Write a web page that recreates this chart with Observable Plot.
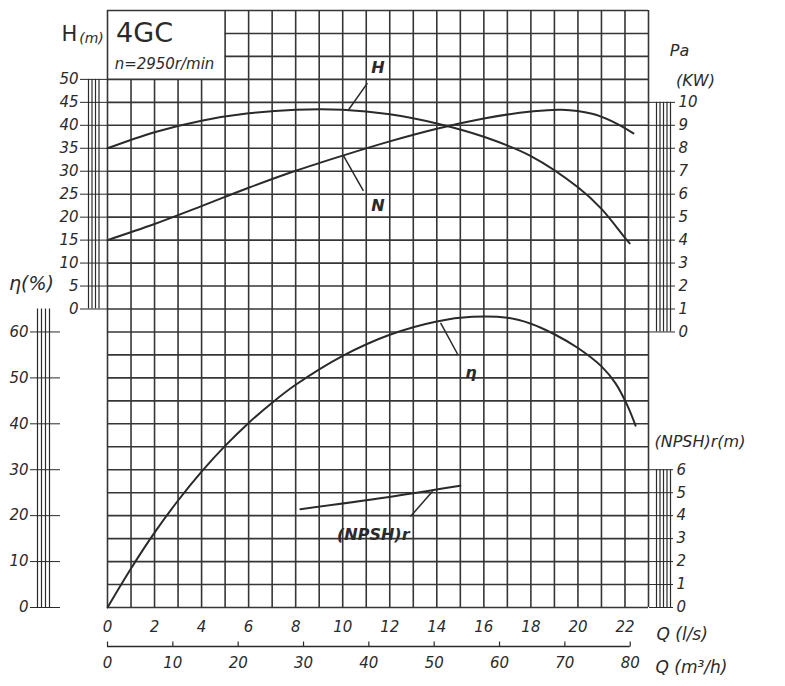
<!DOCTYPE html>
<html><head><meta charset="utf-8">
<script src="https://cdn.jsdelivr.net/npm/d3@7"></script>
<script src="https://cdn.jsdelivr.net/npm/@observablehq/plot@0.6"></script>
<style>body{margin:0;background:#fff}svg{display:block}</style>
</head><body><div id="chart"></div>
<script>
// ---- data ----
// Head H (m) vs Q (L/s)
const qHead = [0, 2, 4, 6, 8, 10, 12, 14, 16, 18, 20, 21, 22, 22.2];
const headM = [35, 38.5, 41.0, 42.6, 43.4, 43.4, 42.4, 40.4, 37.5, 33.3, 26.5, 21.8, 15.5, 14.3];
// Shaft power N (kW)
const qPower = [0, 2, 4, 6, 8, 10, 12, 14, 16, 18, 19.3, 20.6, 21.5, 22.36];
const powerKW = [4.0, 4.7, 5.48, 6.28, 7.02, 7.68, 8.3, 8.85, 9.3, 9.6, 9.68, 9.5, 9.15, 8.65];
// Efficiency (%)
const qEff = [0, 1, 2, 3, 4, 5, 6, 7, 8, 10, 12, 14, 15.5, 17, 18, 19, 20, 21, 21.6, 22.1, 22.45];
const effPct = [0, 8.5, 16.3, 23.3, 29.6, 35.2, 40.2, 44.6, 48.5, 54.8, 59.4, 62.3, 63.3, 63.1, 61.8, 59.5, 56.5, 52.5, 48.8, 44.0, 39.6];
// (NPSH)r (m)
const qNpsh = [8.2, 11.9, 15.0];
const npshM = [4.28, 4.8, 5.3];

// tick labels
const qLsTicks = [0, 2, 4, 6, 8, 10, 12, 14, 16, 18, 20, 22];
const qM3hTicks = [0, 10, 20, 30, 40, 50, 60, 70, 80];
const headTicks = [0, 5, 10, 15, 20, 25, 30, 35, 40, 45, 50];
const effTicks = [0, 10, 20, 30, 40, 50, 60];
const powerTicks = [0, 1, 2, 3, 4, 5, 6, 7, 8, 9, 10];
const npshTicks = [0, 1, 2, 3, 4, 5, 6];

// ---- mapping of the four vertical scales onto one grid (grid row = 5 m of head) ----
const Y_MIN = -65, Y_MAX = 65, Q_MAX = 23;
const fromHead = h => h;
const fromEff = e => e - 65;
const fromPower = p => 5 * p - 5;
const fromNpsh = n => 5 * n - 65;

const headData = qHead.map((q, i) => ({q, v: fromHead(headM[i])}));
const powerData = qPower.map((q, i) => ({q, v: fromPower(powerKW[i])}));
const effData = qEff.map((q, i) => ({q, v: fromEff(effPct[i])}));
const npshData = qNpsh.map((q, i) => ({q, v: fromNpsh(npshM[i])}));

// grid (title box at the top-left left blank)
const vLines = d3.range(0, Q_MAX + 1).map(q => ({q, y1: Y_MIN, y2: (q >= 1 && q <= 4) ? 50 : Y_MAX}));
const hLines = d3.range(Y_MIN, Y_MAX + 1, 5).map(v => ({v, x1: (v === 55 || v === 60) ? 5 : 0, x2: Q_MAX}));

// curve labels and leaders (annotation positions in grid units)
const curveLabels = [
  {q: 11.5, v: 52.5, t: "H"},
  {q: 11.5, v: 22.5, t: "N"},
  {q: 15.45, v: -13.9, t: "η"},
  {q: 11.3, v: -49.2, t: "(NPSH)r"}
];
const leaders = [
  {q1: 10.25, v1: 43.4, q2: 11.05, v2: 49.2},
  {q1: 10.03, v1: 33.4, q2: 10.88, v2: 25.7},
  {q1: 14.16, v1: -3.0, q2: 14.88, v2: -9.8},
  {q1: 12.88, v1: -45.2, q2: 13.82, v2: -39.7}
];

const ink = "#2a2a2a";
const gridInk = "#363636";
const hand = "'DejaVu Sans', sans-serif";

// measuring-bar helpers (hatched vertical bars beside each scale)
function bar(xAnchor, y1, y2, offsets) {
  return offsets.map(o => Plot.ruleX([xAnchor], {x: d => d, y1: () => y1, y2: () => y2, dx: o, stroke: ink, strokeWidth: 1.2}));
}
const tickUp = {draw(ctx) { ctx.moveTo(0, 0); ctx.lineTo(0, -5); }};
// centred free text relative to a frame corner
const note = (t, anchor, dx, dy, size, extra = {}) =>
  Plot.text([t], {frameAnchor: anchor, textAnchor: "middle", lineAnchor: "middle", dx, dy, fontSize: size, fill: ink, ...extra});

const chart = Plot.plot({
  width: 785, height: 686,
  marginLeft: 107, marginRight: 137, marginTop: 10, marginBottom: 79,
  x: {domain: [0, Q_MAX]},
  y: {domain: [Y_MIN, Y_MAX]},
  style: {fontFamily: hand, fontStyle: "italic", color: ink, background: "#fff"},
  marks: [
    // grid
    Plot.ruleX(vLines, {x: "q", y1: "y1", y2: "y2", stroke: gridInk, strokeWidth: 1.6}),
    Plot.ruleY(hLines, {y: "v", x1: "x1", x2: "x2", stroke: gridInk, strokeWidth: 1.6}),
    // bars
    ...bar(0, fromHead(0), fromHead(50), [-19, -15.5, -12, -8.5]),
    ...bar(0, fromEff(0), fromEff(65), [-70, -66, -62, -58]),
    ...bar(Q_MAX, fromPower(0), fromPower(10), [8, 11.5, 15, 18.5, 22]),
    ...bar(Q_MAX, fromNpsh(0), fromNpsh(6), [8, 11.5, 15, 18.5, 22]),
    // scales
    Plot.axisY(headTicks.map(fromHead), {anchor: "left", tickSize: 27, tickPadding: 2, tickFormat: d => d, fontSize: 15, label: null, stroke: ink}),
    Plot.axisY(effTicks.map(fromEff), {anchor: "left", dx: -47, tickSize: 30, tickPadding: 2, tickFormat: d => d + 65, fontSize: 15, label: null, stroke: ink}),
    Plot.axisY(powerTicks.map(fromPower), {anchor: "right", tickSize: 26, tickPadding: 4, tickFormat: d => (d + 5) / 5, fontSize: 15, label: null, stroke: ink}),
    Plot.axisY(npshTicks.map(fromNpsh), {anchor: "right", tickSize: 24, tickPadding: 4, tickFormat: d => (d + 65) / 5, fontSize: 15, label: null, stroke: ink}),
    Plot.axisX(qLsTicks, {anchor: "bottom", tickSize: 0, tickPadding: 14, fontSize: 15, label: null}),
    Plot.axisX(qM3hTicks.map(d => d / 3.6), {anchor: "bottom", tickSize: 0, tickPadding: 50, tickFormat: d => Math.round(d * 3.6), fontSize: 15, label: null}),
    Plot.ruleY([0], {y: () => Y_MIN, x1: () => 0, x2: () => 80 / 3.6, dy: 39, stroke: ink, strokeWidth: 1.3}),
    Plot.dot(qM3hTicks, {x: d => d / 3.6, frameAnchor: "bottom", dy: 39, symbol: tickUp, stroke: ink, strokeWidth: 1.2, fill: "none"}),
    // curves
    Plot.line(headData, {x: "q", y: "v", curve: "catmull-rom", stroke: ink, strokeWidth: 2}),
    Plot.line(powerData, {x: "q", y: "v", curve: "catmull-rom", stroke: ink, strokeWidth: 2}),
    Plot.line(effData, {x: "q", y: "v", curve: "catmull-rom", stroke: ink, strokeWidth: 2}),
    Plot.line(npshData, {x: "q", y: "v", curve: "catmull-rom", stroke: ink, strokeWidth: 2}),
    Plot.link(leaders, {x1: "q1", y1: "v1", x2: "q2", y2: "v2", stroke: ink, strokeWidth: 1.5}),
    Plot.text(curveLabels, {x: "q", y: "v", text: "t", fontSize: 16, fontWeight: "bold", fill: ink}),
    // titles
    note("H", "top-left", -38, 24, 21, {fontStyle: "normal"}),
    note("(m)", "top-left", -16, 28, 14),
    note("4GC", "top-left", 37, 23, 27, {fontStyle: "normal"}),
    note("n=2950r/min", "top-left", 57, 54, 15),
    note("η(%)", "top-left", -76, 273, 19),
    note("Pa", "top-right", 31, 40, 16),
    note("(KW)", "top-right", 47, 70, 16),
    Plot.text(["(NPSH)r(m)"], {frameAnchor: "top-right", textAnchor: "start", lineAnchor: "middle", dx: 6, dy: 431, fontSize: 16, fill: ink}),
    Plot.text(["Q (l/s)"], {frameAnchor: "bottom-right", textAnchor: "start", lineAnchor: "middle", dx: 8, dy: 27, fontSize: 17, fill: ink}),
    Plot.text(["Q (m³/h)"], {frameAnchor: "bottom-right", textAnchor: "start", lineAnchor: "middle", dx: 7, dy: 60, fontSize: 17, fill: ink})
  ]
});
document.getElementById("chart").append(chart);
</script>
</body></html>
